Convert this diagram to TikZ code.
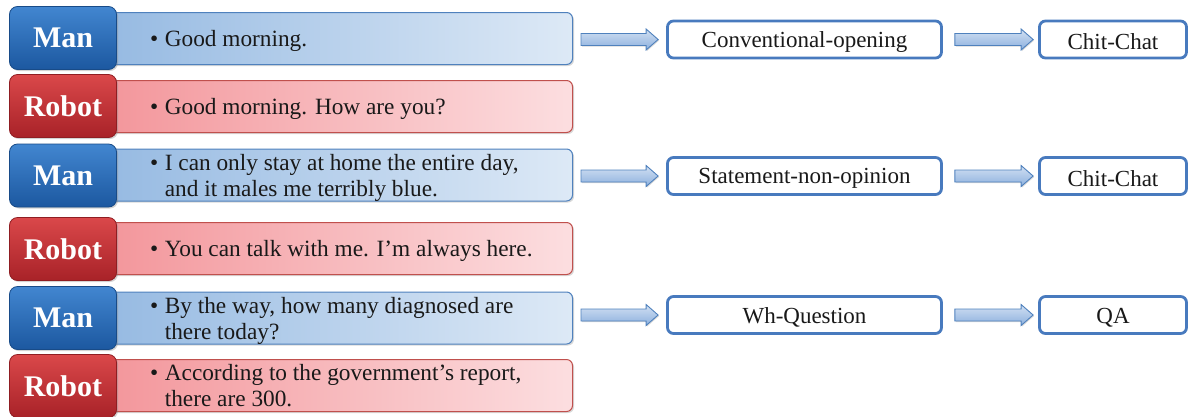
\documentclass[tikz,border=0pt]{standalone}
\usepackage{fontspec}
\setmainfont{Liberation Serif}
\usetikzlibrary{calc,shadows}
\definecolor{manA}{RGB}{66,134,208}
\definecolor{manB}{RGB}{28,88,160}
\definecolor{robA}{RGB}{218,72,74}
\definecolor{robB}{RGB}{168,34,40}
\definecolor{mtL}{RGB}{150,186,226}
\definecolor{mtR}{RGB}{221,233,246}
\definecolor{mtD}{RGB}{79,129,189}
\definecolor{rtL}{RGB}{243,150,155}
\definecolor{rtR}{RGB}{252,222,224}
\definecolor{rtD}{RGB}{192,80,77}
\definecolor{boxD}{RGB}{72,122,190}
\definecolor{arA}{RGB}{210,224,242}
\definecolor{arB}{RGB}{140,176,222}
\newcommand\blockarrow[4]{%
  \path[barrow] let \p1=($(#1.east)+(#3,0)$), \p2=($(#2.west)+(-#4,0)$) in
  (\x1,\y2+6pt) -- (\x2-12pt,\y2+6pt) -- (\x2-12pt,\y2+10.5pt) -- (\x2,\y2)
  -- (\x2-12pt,\y2-10.5pt) -- (\x2-12pt,\y2-6pt) -- (\x1,\y2-6pt) -- cycle;}
\begin{document}
\begin{tikzpicture}[x=1pt,y=-1pt,
  lab/.style={rectangle, rounded corners=8pt, minimum width=107pt, minimum height=63pt,
    inner sep=0pt, text=white, font=\fontsize{30}{34}\selectfont\bfseries, line width=0.8pt,
    drop shadow={opacity=0.35, shadow xshift=1.5pt, shadow yshift=-1.5pt}},
  manlab/.style={lab, top color=manA, bottom color=manB, draw=manB!85!black},
  roblab/.style={lab, top color=robA, bottom color=robB, draw=robB!85!black},
  tbox/.style={rectangle, rounded corners=6pt, minimum width=466pt, minimum height=52pt,
    inner sep=0pt, line width=1pt,
    drop shadow={opacity=0.3, shadow xshift=1.5pt, shadow yshift=-1.5pt}},
  mantxt/.style={tbox, left color=mtL, right color=mtR, draw=mtD},
  robtxt/.style={tbox, left color=rtL, right color=rtR, draw=rtD},
  say/.style={anchor=west, inner sep=0pt, yshift=-3pt, font=\fontsize{23.3}{26}\selectfont, text=black!90},
  tag/.style={rectangle, rounded corners=6pt, minimum height=37pt, draw=boxD, line width=2.8pt,
    fill=white, inner sep=0pt, font=\fontsize{23}{26}\selectfont, text=black!90},
  tagtext/.style={inner sep=0pt, yshift=-2.5pt, font=\fontsize{23}{26}\selectfont, text=black!90},
  midtag/.style={tag, minimum width=274pt},
  endtag/.style={tag, minimum width=147pt},
  barrow/.style={draw=mtD, line width=0.9pt, top color=arA, bottom color=arB,
    drop shadow={opacity=0.3, shadow xshift=1pt, shadow yshift=-1pt}}
]
\useasboundingbox (0,0) rectangle (1190,416);
% text boxes
\node[mantxt, anchor=east] (t1) at (573,38.5) {};
\node[robtxt, anchor=east] (t2) at (573,106.5) {};
\node[mantxt, anchor=east] (t3) at (573,175) {};
\node[robtxt, anchor=east] (t4) at (573,248.5) {};
\node[mantxt, anchor=east] (t5) at (573,318) {};
\node[robtxt, anchor=east] (t6) at (573,385.5) {};
% speaker labels
\node[manlab] (l1) at (63,38) {Man};
\node[roblab] (l2) at (63,106) {Robot};
\node[manlab] (l3) at (63,175.5) {Man};
\node[roblab] (l4) at (63,249) {Robot};
\node[manlab] (l5) at (63,318) {Man};
\node[roblab] (l6) at (63,386) {Robot};
% utterances
\node[say] (s1) at ($(t1.west)+(44,0)$) {\begin{tabular}{@{}l@{\hspace{6.5pt}}l@{}}\textbullet & Good morning.\end{tabular}};
\node[say] (s2) at ($(t2.west)+(44,0)$) {\begin{tabular}{@{}l@{\hspace{6.5pt}}l@{}}\textbullet & Good morning. How are you?\end{tabular}};
\node[say] (s3) at ($(t3.west)+(44,0)$) {\begin{tabular}{@{}l@{\hspace{6.5pt}}l@{}}\textbullet & I can only stay at home the entire day,\\ & and it males me terribly blue.\end{tabular}};
\node[say] (s4) at ($(t4.west)+(44,0)$) {\begin{tabular}{@{}l@{\hspace{6.5pt}}l@{}}\textbullet & You can talk with me. I’m always here.\end{tabular}};
\node[say] (s5) at ($(t5.west)+(44,0)$) {\begin{tabular}{@{}l@{\hspace{6.5pt}}l@{}}\textbullet & By the way, how many diagnosed are\\ & there today?\end{tabular}};
\node[say] (s6) at ($(t6.west)+(44,0)$) {\begin{tabular}{@{}l@{\hspace{6.5pt}}l@{}}\textbullet & According to the government’s report,\\ & there are 300.\end{tabular}};
% act and intent tags
\node[midtag] (m1) at (804.5,39.5) {};
\node[endtag] (r1) at (1113,39.5) {};
\node[midtag] (m3) at (804.5,176) {};
\node[endtag] (r3) at (1113,176) {};
\node[midtag] (m5) at (804.5,315) {};
\node[endtag] (r5) at (1113,315) {};
\node[tagtext] (m1t) at (m1) {Conventional-opening};
\node[tagtext] (r1t) at (r1) {Chit-Chat};
\node[tagtext] (m3t) at (m3) {Statement-non-opinion};
\node[tagtext] (r3t) at (r3) {Chit-Chat};
\node[tagtext] (m5t) at (m5) {Wh-Question};
\node[tagtext] (r5t) at (r5) {QA};
% block arrows
\blockarrow{t1}{m1}{8}{8}
\blockarrow{m1}{r1}{12}{5}
\blockarrow{t3}{m3}{8}{8}
\blockarrow{m3}{r3}{12}{5}
\blockarrow{t5}{m5}{8}{8}
\blockarrow{m5}{r5}{12}{5}
\end{tikzpicture}
\end{document}
